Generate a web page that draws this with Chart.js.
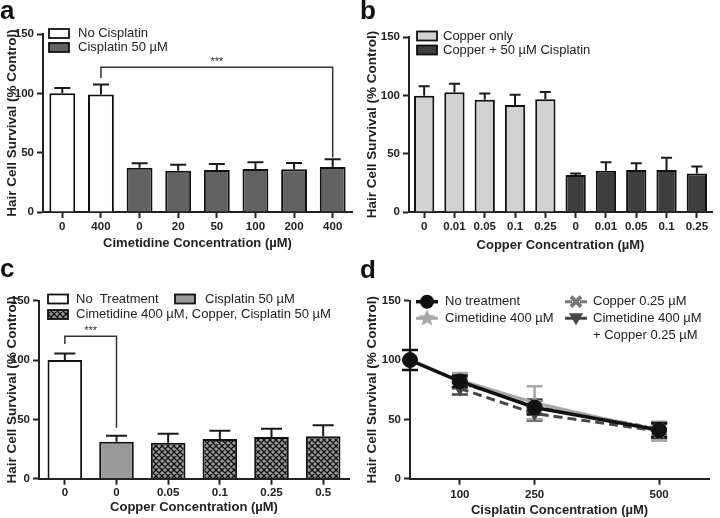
<!DOCTYPE html>
<html>
<head>
<meta charset="utf-8">
<script src="https://cdn.jsdelivr.net/npm/chart.js@4"></script>
<style>
  body { margin: 0; background: #fff; width: 720px; height: 518px; position: relative; overflow: hidden; }
  canvas { position: absolute; }
</style>
</head>
<body>
<canvas id="chartA" width="360" height="260" style="left:0;top:0"></canvas>
<canvas id="chartB" width="360" height="260" style="left:360px;top:0"></canvas>
<canvas id="chartC" width="360" height="258" style="left:0;top:260px"></canvas>
<canvas id="chartD" width="360" height="258" style="left:360px;top:260px"></canvas>
<script>
// ---- panel a: cimetidine ----
const aLabels = ["0", "400", "0", "20", "50", "100", "200", "400"];
const aNoCis = [100, 99];
const aNoCisErr = [4.5, 8.5];
const aCis = [37.3, 34.8, 35.4, 36.2, 36, 37.9];
const aCisErr = [3.7, 5.1, 5, 5.7, 5.3, 6.5];

// ---- panel b: copper ----
const bLabels = ["0", "0.01", "0.05", "0.1", "0.25", "0", "0.01", "0.05", "0.1", "0.25"];
const bCuOnly = [99.7, 102.6, 96.3, 91.7, 96.6];
const bCuOnlyErr = [8, 7.4, 5.2, 8.9, 6.3];
const bCuCis = [31.7, 35.4, 36, 36, 33.1];
const bCuCisErr = [1.4, 7.2, 5.7, 10.6, 5.8];

// ---- panel c: combination ----
const cLabels = ["0", "0", "0.05", "0.1", "0.25", "0.5"];
const cNoTreat = [100];
const cNoTreatErr = [5.6];
const cCis = [31.2];
const cCisErr = [5];
const cCombo = [30.3, 33.4, 35.1, 35.7];
const cComboErr = [7.6, 7, 7, 9.3];

// ---- panel d: cisplatin dose response ----
const dTicks = [100, 250, 500];
const dDoseNoTreat = [0, 100, 250, 500];
const dNoTreat = [100, 82, 60, 41];
const dNoTreatErr = [8.5, 5, 6, 6];
const dDose = [100, 250, 500];
const dCim = [83, 64, 40];
const dCimErr = [6, 14, 8];
const dCu = [81, 61, 42];
const dCuErr = [5, 6, 5];
const dCimCu = [76, 55, 40];
const dCimCuErr = [5, 6, 6];

const FONT = "'Liberation Sans', Arial, sans-serif";
Chart.defaults.font.family = FONT;
Chart.defaults.color = "#222";

const pad = (n, arr, m) => Array(n).fill(null).concat(arr).concat(Array(m).fill(null));

// crosshatch fill for the combination bars
function hatch() {
  const p = 6;
  const c = document.createElement("canvas");
  c.width = p; c.height = p;
  const g = c.getContext("2d");
  g.fillStyle = "#9a9a9a";
  g.fillRect(0, 0, p, p);
  g.strokeStyle = "#111";
  g.lineWidth = 1.3;
  g.beginPath();
  for (const k of [-p, 0, p]) {
    g.moveTo(k, 0); g.lineTo(k + p, p);
    g.moveTo(k + p, 0); g.lineTo(k, p);
  }
  g.stroke();
  return g.createPattern(c, "repeat");
}

// filled star marker
function starImg(color, r) {
  const c = document.createElement("canvas");
  c.width = r * 2 + 2; c.height = r * 2 + 2;
  const g = c.getContext("2d");
  g.fillStyle = color;
  g.beginPath();
  for (let i = 0; i < 10; i++) {
    const rr = i % 2 ? r * 0.45 : r;
    const a = -Math.PI / 2 + i * Math.PI / 5;
    g.lineTo(r + 1 + rr * Math.cos(a), r + 1 + rr * Math.sin(a));
  }
  g.closePath();
  g.fill();
  return c;
}

// upward error bars on top of the bars
function barErrors(cap) {
  return {
    id: "barErrors",
    afterDatasetsDraw(chart) {
      const ctx = chart.ctx, y = chart.scales.y;
      chart.data.datasets.forEach((ds, i) => {
        chart.getDatasetMeta(i).data.forEach((bar, j) => {
          const v = ds.data[j];
          if (v == null) return;
          const top = y.getPixelForValue(v + ds.errors[j]);
          ctx.save();
          ctx.strokeStyle = "#1a1a1a";
          ctx.lineWidth = 2;
          ctx.beginPath();
          ctx.moveTo(bar.x, bar.y);
          ctx.lineTo(bar.x, top);
          ctx.moveTo(bar.x - cap / 2, top);
          ctx.lineTo(bar.x + cap / 2, top);
          ctx.stroke();
          ctx.restore();
        });
      });
    }
  };
}

// +/- error bars behind the points
function lineErrors(cap) {
  return {
    id: "lineErrors",
    beforeDatasetsDraw(chart) {
      const ctx = chart.ctx, y = chart.scales.y;
      for (let i = chart.data.datasets.length - 1; i >= 0; i--) {
        const ds = chart.data.datasets[i];
        chart.getDatasetMeta(i).data.forEach((pt, j) => {
          const v = ds.data[j].y, e = ds.errors[j];
          const t = y.getPixelForValue(v + e), b = y.getPixelForValue(v - e);
          ctx.save();
          ctx.strokeStyle = ds.borderColor;
          ctx.lineWidth = 2.5;
          ctx.beginPath();
          ctx.moveTo(pt.x, t); ctx.lineTo(pt.x, b);
          ctx.moveTo(pt.x - cap / 2, t); ctx.lineTo(pt.x + cap / 2, t);
          ctx.moveTo(pt.x - cap / 2, b); ctx.lineTo(pt.x + cap / 2, b);
          ctx.stroke();
          ctx.restore();
        });
      }
    }
  };
}

// significance bracket with ***
function bracket(from, to, level, leftEnd, rightEnd) {
  return {
    id: "bracket",
    afterDatasetsDraw(chart) {
      const ctx = chart.ctx, x = chart.scales.x, y = chart.scales.y;
      const x1 = x.getPixelForValue(from), x2 = x.getPixelForValue(to);
      const yl = y.getPixelForValue(level);
      ctx.save();
      ctx.strokeStyle = "#333";
      ctx.lineWidth = 1.5;
      ctx.beginPath();
      ctx.moveTo(x1, y.getPixelForValue(leftEnd));
      ctx.lineTo(x1, yl);
      ctx.lineTo(x2, yl);
      ctx.lineTo(x2, y.getPixelForValue(rightEnd));
      ctx.stroke();
      ctx.fillStyle = "#333";
      ctx.font = "11px " + FONT;
      ctx.textAlign = "center";
      ctx.textBaseline = "alphabetic";
      ctx.fillText("***", (x1 + x2) / 2, yl - 2);
      ctx.restore();
    }
  };
}

// box legend for bar panels
function boxLegend(items) {
  return {
    id: "boxLegend",
    afterDraw(chart) {
      const ctx = chart.ctx;
      ctx.save();
      items.forEach(it => {
        ctx.fillStyle = chart.data.datasets[it.ds].backgroundColor;
        ctx.fillRect(it.x, it.y - 4.5, 20, 9);
        ctx.strokeStyle = "#111";
        ctx.lineWidth = 1.8;
        ctx.strokeRect(it.x, it.y - 4.5, 20, 9);
        ctx.fillStyle = "#222";
        ctx.font = "13px " + FONT;
        ctx.textBaseline = "middle";
        ctx.fillText(it.text, it.tx, it.y);
      });
      ctx.restore();
    }
  };
}

function letter(ch, y) {
  return {
    id: "letter",
    afterDraw(chart) {
      const ctx = chart.ctx;
      ctx.save();
      ctx.fillStyle = "#111";
      ctx.font = "bold 26px " + FONT;
      ctx.textBaseline = "alphabetic";
      ctx.fillText(ch, 0, y);
      ctx.restore();
    }
  };
}

function axes(o) {
  const grid = { display: true, drawOnChartArea: false, drawTicks: true, tickLength: 6, tickWidth: 2, tickColor: "#222", offset: false };
  const border = { display: true, color: "#222", width: 2 };
  return {
    x: Object.assign({
      stacked: o.stackX,
      grid: grid,
      border: border,
      ticks: { font: { size: 11.5, weight: "bold" }, padding: o.xTickPad, maxRotation: 0, autoSkip: false },
      title: { display: true, text: o.xTitle, font: { size: 13, weight: "bold" }, padding: { top: 0, bottom: o.xTitlePad } },
      afterFit: s => { s.height = o.xh; }
    }, o.xExtra || {}),
    y: {
      min: 0, max: 150,
      grid: grid,
      border: border,
      ticks: { stepSize: 50, font: { size: 11.5, weight: "bold" }, padding: 3 },
      title: { display: true, text: "Hair Cell Survival (% Control)", font: { size: 13.5, weight: "bold" }, padding: { top: 4, bottom: 0 } },
      afterFit: s => { s.width = o.yw; }
    }
  };
}

function barDataset(label, data, errors, color) {
  return {
    label: label, data: data, errors: errors,
    backgroundColor: color, borderColor: "#111", borderWidth: 2,
    categoryPercentage: 1, barPercentage: 0.67
  };
}

// a
new Chart(document.getElementById("chartA"), {
  type: "bar",
  data: {
    labels: aLabels,
    datasets: [
      barDataset("No Cisplatin", pad(0, aNoCis, aCis.length), pad(0, aNoCisErr, aCis.length), "#ffffff"),
      barDataset("Cisplatin 50 µM", pad(aNoCis.length, aCis, 0), pad(aNoCis.length, aCisErr, 0), "#626262")
    ]
  },
  options: {
    responsive: false, animation: false,
    layout: { padding: { top: 34, right: 8, left: 0, bottom: 0 } },
    plugins: { legend: { display: false }, tooltip: { enabled: false } },
    scales: axes({ stackX: true, xTitle: "Cimetidine Concentration (µM)", xTitlePad: 9, xTickPad: 2, xh: 48, yw: 43 })
  },
  plugins: [barErrors(16), bracket(1, 7, 122, 113, 46),
    boxLegend([{ ds: 0, x: 49, y: 33.5, tx: 78, text: "No Cisplatin" }, { ds: 1, x: 49, y: 47.5, tx: 78, text: "Cisplatin 50 µM" }]),
    letter("a", 19)]
});

// b
new Chart(document.getElementById("chartB"), {
  type: "bar",
  data: {
    labels: bLabels,
    datasets: [
      barDataset("Copper only", pad(0, bCuOnly, bCuCis.length), pad(0, bCuOnlyErr, bCuCis.length), "#d2d2d2"),
      barDataset("Copper + 50 µM Cisplatin", pad(bCuOnly.length, bCuCis, 0), pad(bCuOnly.length, bCuCisErr, 0), "#3e3e3e")
    ]
  },
  options: {
    responsive: false, animation: false,
    layout: { padding: { top: 37, right: 8, left: 0, bottom: 0 } },
    plugins: { legend: { display: false }, tooltip: { enabled: false } },
    scales: axes({ stackX: true, xTitle: "Copper Concentration (µM)", xTitlePad: 7, xTickPad: 2, xh: 48, yw: 49 })
  },
  plugins: [barErrors(11),
    boxLegend([{ ds: 0, x: 57, y: 36, tx: 83, text: "Copper only" }, { ds: 1, x: 57, y: 50, tx: 83, text: "Copper + 50 µM Cisplatin" }]),
    letter("b", 19)]
});

// c
new Chart(document.getElementById("chartC"), {
  type: "bar",
  data: {
    labels: cLabels,
    datasets: [
      barDataset("No  Treatment", pad(0, cNoTreat, 5), pad(0, cNoTreatErr, 5), "#ffffff"),
      barDataset("Cisplatin 50 µM", pad(1, cCis, 4), pad(1, cCisErr, 4), "#9a9a9a"),
      barDataset("Cimetidine 400 µM, Copper, Cisplatin 50 µM", pad(2, cCombo, 0), pad(2, cComboErr, 0), hatch())
    ]
  },
  options: {
    responsive: false, animation: false,
    layout: { padding: { top: 40.7, right: 11, left: 0, bottom: 0 } },
    plugins: { legend: { display: false }, tooltip: { enabled: false } },
    scales: axes({ stackX: true, xTitle: "Copper Concentration (µM)", xTitlePad: 3, xTickPad: 1, xh: 39.3, yw: 39 })
  },
  plugins: [barErrors(21), bracket(0, 1, 120, 113.5, 43),
    boxLegend([
      { ds: 0, x: 48, y: 39, tx: 76, text: "No  Treatment" },
      { ds: 1, x: 175, y: 39, tx: 205, text: "Cisplatin 50 µM" },
      { ds: 2, x: 48, y: 54.5, tx: 76, text: "Cimetidine 400 µM, Copper, Cisplatin 50 µM" }
    ]),
    letter("c", 17)]
});

// d
const starMarker = starImg("#a8a8a8", 9);
const toPts = (xs, ys) => xs.map((x, i) => ({ x: x, y: ys[i] }));
const dSeries = [
  { label: "No treatment", xs: dDoseNoTreat, ys: dNoTreat, err: dNoTreatErr, color: "#111111", style: "circle", dash: [], width: 3.5, rot: 0 },
  { label: "Cimetidine 400 µM", xs: dDose, ys: dCim, err: dCimErr, color: "#a8a8a8", style: starMarker, dash: [], width: 3, rot: 0 },
  { label: "Copper 0.25 µM", xs: dDose, ys: dCu, err: dCuErr, color: "#777777", style: "crossRot", dash: [7, 3, 2, 3], width: 3, rot: 0 },
  { label: "Cimetidine 400 µM", xs: dDose, ys: dCimCu, err: dCimCuErr, color: "#474747", style: "triangle", dash: [9, 5], width: 3, rot: 180 }
];

const lineLegend = {
  id: "lineLegend",
  afterDraw(chart) {
    const ctx = chart.ctx;
    const items = [
      { s: 0, x: 56, y: 41.7, tx: 85, text: ["No treatment"] },
      { s: 1, x: 56, y: 58.3, tx: 85, text: ["Cimetidine 400 µM"] },
      { s: 2, x: 205, y: 41.7, tx: 233, text: ["Copper 0.25 µM"] },
      { s: 3, x: 205, y: 58.3, tx: 233, text: ["Cimetidine 400 µM", "+ Copper 0.25 µM"] }
    ];
    ctx.save();
    items.forEach(it => {
      const s = dSeries[it.s];
      ctx.strokeStyle = s.color;
      ctx.fillStyle = s.color;
      ctx.lineWidth = s.width;
      ctx.setLineDash(s.dash);
      ctx.beginPath();
      ctx.moveTo(it.x, it.y); ctx.lineTo(it.x + 22, it.y);
      ctx.stroke();
      ctx.setLineDash([]);
      const cx = it.x + 11, cy = it.y;
      if (s.style === "circle") {
        ctx.beginPath(); ctx.arc(cx, cy, 7, 0, Math.PI * 2); ctx.fill();
      } else if (s.style === "crossRot") {
        ctx.lineWidth = 4;
        ctx.beginPath();
        ctx.moveTo(cx - 5, cy - 5); ctx.lineTo(cx + 5, cy + 5);
        ctx.moveTo(cx + 5, cy - 5); ctx.lineTo(cx - 5, cy + 5);
        ctx.stroke();
      } else if (s.style === "triangle") {
        ctx.beginPath();
        ctx.moveTo(cx - 7, cy - 5); ctx.lineTo(cx + 7, cy - 5); ctx.lineTo(cx, cy + 7);
        ctx.closePath(); ctx.fill();
      } else {
        ctx.drawImage(s.style, cx - s.style.width / 2, cy - s.style.height / 2);
      }
      ctx.fillStyle = "#222";
      ctx.font = "13px " + FONT;
      ctx.textBaseline = "middle";
      it.text.forEach((t, k) => ctx.fillText(t, it.tx, it.y + k * 16.7));
    });
    ctx.restore();
  }
};

new Chart(document.getElementById("chartD"), {
  type: "line",
  data: {
    datasets: dSeries.map(s => ({
      label: s.label,
      data: toPts(s.xs, s.ys),
      errors: s.err,
      borderColor: s.color,
      backgroundColor: s.color,
      borderWidth: s.width,
      borderDash: s.dash,
      pointStyle: s.style,
      pointRadius: s.style === "circle" ? 7.5 : 7,
      pointBorderWidth: s.style === "crossRot" ? 4 : 1,
      pointRotation: s.rot,
      tension: 0,
      clip: false
    }))
  },
  options: {
    responsive: false, animation: false,
    layout: { padding: { top: 40.7, right: 2, left: 0, bottom: 0 } },
    plugins: { legend: { display: false }, tooltip: { enabled: false } },
    scales: axes({
      stackX: false, xTitle: "Cisplatin Concentration (µM)", xTitlePad: 0, xTickPad: 3, xh: 39.3, yw: 50,
      xExtra: { type: "linear", min: 0, max: 600, afterBuildTicks: s => { s.ticks = dTicks.map(v => ({ value: v })); } }
    })
  },
  plugins: [lineErrors(16), lineLegend, letter("d", 18)]
});
</script>
</body>
</html>
